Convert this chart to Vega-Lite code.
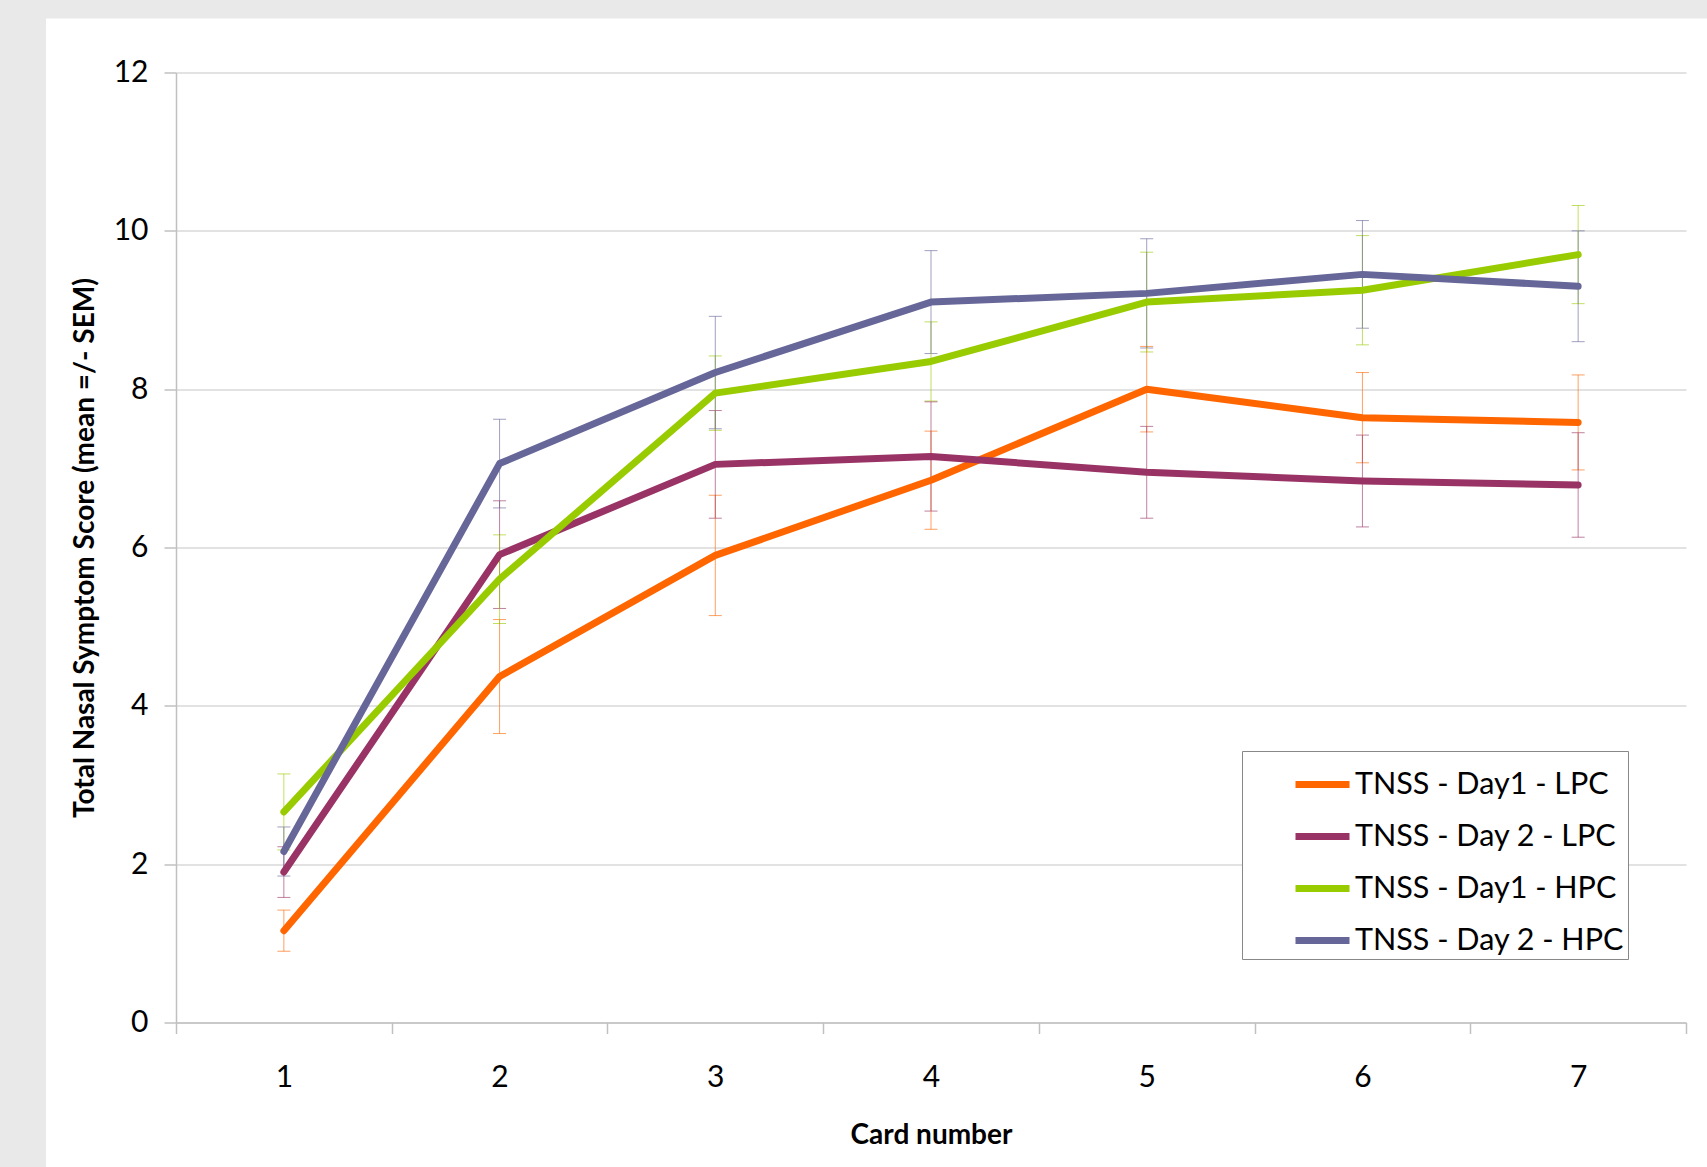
{
  "$schema": "https://vega.github.io/schema/vega-lite/v6.json",
  "padding": 0,
  "background": "white",
  "config": {
    "font": "Lato",
    "view": {"stroke": null}
  },
  "datasets": {
    "tnss": [
      {"card": 1, "series": "TNSS - Day1 - LPC", "mean": 1.16, "sem": 0.26},
      {"card": 2, "series": "TNSS - Day1 - LPC", "mean": 4.37, "sem": 0.72},
      {"card": 3, "series": "TNSS - Day1 - LPC", "mean": 5.90, "sem": 0.76},
      {"card": 4, "series": "TNSS - Day1 - LPC", "mean": 6.85, "sem": 0.62},
      {"card": 5, "series": "TNSS - Day1 - LPC", "mean": 8.00, "sem": 0.54},
      {"card": 6, "series": "TNSS - Day1 - LPC", "mean": 7.64, "sem": 0.57},
      {"card": 7, "series": "TNSS - Day1 - LPC", "mean": 7.58, "sem": 0.60},
      {"card": 1, "series": "TNSS - Day 2 - LPC", "mean": 1.90, "sem": 0.32},
      {"card": 2, "series": "TNSS - Day 2 - LPC", "mean": 5.91, "sem": 0.68},
      {"card": 3, "series": "TNSS - Day 2 - LPC", "mean": 7.05, "sem": 0.68},
      {"card": 4, "series": "TNSS - Day 2 - LPC", "mean": 7.15, "sem": 0.69},
      {"card": 5, "series": "TNSS - Day 2 - LPC", "mean": 6.95, "sem": 0.58},
      {"card": 6, "series": "TNSS - Day 2 - LPC", "mean": 6.84, "sem": 0.58},
      {"card": 7, "series": "TNSS - Day 2 - LPC", "mean": 6.79, "sem": 0.66},
      {"card": 1, "series": "TNSS - Day1 - HPC", "mean": 2.66, "sem": 0.48},
      {"card": 2, "series": "TNSS - Day1 - HPC", "mean": 5.60, "sem": 0.56},
      {"card": 3, "series": "TNSS - Day1 - HPC", "mean": 7.95, "sem": 0.47},
      {"card": 4, "series": "TNSS - Day1 - HPC", "mean": 8.35, "sem": 0.50},
      {"card": 5, "series": "TNSS - Day1 - HPC", "mean": 9.10, "sem": 0.63},
      {"card": 6, "series": "TNSS - Day1 - HPC", "mean": 9.25, "sem": 0.69},
      {"card": 7, "series": "TNSS - Day1 - HPC", "mean": 9.70, "sem": 0.62},
      {"card": 1, "series": "TNSS - Day 2 - HPC", "mean": 2.16, "sem": 0.31},
      {"card": 2, "series": "TNSS - Day 2 - HPC", "mean": 7.06, "sem": 0.56},
      {"card": 3, "series": "TNSS - Day 2 - HPC", "mean": 8.21, "sem": 0.71},
      {"card": 4, "series": "TNSS - Day 2 - HPC", "mean": 9.10, "sem": 0.65},
      {"card": 5, "series": "TNSS - Day 2 - HPC", "mean": 9.21, "sem": 0.69},
      {"card": 6, "series": "TNSS - Day 2 - HPC", "mean": 9.45, "sem": 0.68},
      {"card": 7, "series": "TNSS - Day 2 - HPC", "mean": 9.30, "sem": 0.70}
    ],
    "empty": []
  },
  "bounds": "flush",
  "spacing": 0,
  "hconcat": [
    {
      "width": 46,
      "height": 1167,
      "view": {"fill": "#e9e9e9", "stroke": null},
      "data": {"name": "empty"},
      "mark": "point"
    },
    {
      "bounds": "flush",
      "spacing": 53.5,
      "vconcat": [
        {
          "width": 1661,
          "height": 18.5,
          "view": {"fill": "#e9e9e9", "stroke": null},
          "data": {"name": "empty"},
          "mark": "point"
        },
        {
          "bounds": "flush",
          "spacing": 129,
          "hconcat": [
            {
              "width": 1,
              "height": 1,
              "data": {"name": "empty"},
              "mark": "point"
            },
            {
              "width": 1510,
              "height": 950,
              "data": {"name": "tnss"},
              "encoding": {
                "x": {
                  "field": "card",
                  "type": "ordinal",
                  "scale": {"type": "band", "paddingInner": 0, "paddingOuter": 0},
                  "axis": {
                    "title": "Card number",
                    "tickBand": "extent",
                    "grid": false,
                    "domainColor": "#c0c0c0",
                    "domainWidth": 1.5,
                    "tickColor": "#c0c0c0",
                    "tickWidth": 1.5,
                    "tickSize": 11,
                    "labelFontSize": 30,
                    "labelColor": "#000000",
                    "labelPadding": 29,
                    "labelAngle": 0,
                    "titleFontSize": 28,
                    "titleFontWeight": "bold",
                    "titleColor": "#000000",
                    "titlePadding": 29
                  }
                },
                "y": {
                  "field": "mean",
                  "type": "quantitative",
                  "scale": {"domain": [0, 12], "nice": false},
                  "axis": {
                    "title": "Total Nasal Symptom Score (mean =/- SEM)",
                    "values": [0, 2, 4, 6, 8, 10, 12],
                    "grid": true,
                    "gridColor": "#c6c6c6",
                    "gridWidth": 1.2,
                    "domainColor": "#c0c0c0",
                    "domainWidth": 1.5,
                    "tickColor": "#c0c0c0",
                    "tickWidth": 1.5,
                    "tickSize": 12,
                    "labelFontSize": 30,
                    "labelColor": "#000000",
                    "labelPadding": 16,
                    "titleFontSize": 28,
                    "titleFontWeight": "bold",
                    "titleColor": "#000000",
                    "titlePadding": 14
                  }
                },
                "color": {
                  "field": "series",
                  "type": "nominal",
                  "scale": {
                    "domain": ["TNSS - Day1 - LPC", "TNSS - Day 2 - LPC", "TNSS - Day1 - HPC", "TNSS - Day 2 - HPC"],
                    "range": ["#ff6600", "#993366", "#99cc00", "#666699"]
                  },
                  "legend": {
                    "title": null,
                    "orient": "none",
                    "legendX": 1242,
                    "legendY": 751,
                    "symbolType": "stroke",
                    "symbolSize": 2916,
                    "symbolStrokeWidth": 7,
                    "symbolOpacity": 1,
                    "labelFontSize": 30.5,
                    "labelColor": "#000000",
                    "labelLimit": 500,
                    "labelOffset": 2,
                    "padding": 3,
                    "symbolOffset": 47,
                    "rowPadding": 6,
                    "strokeColor": "#888888",
                    "fillColor": "#ffffff"
                  }
                }
              },
              "layer": [
                {
                  "mark": {"type": "errorbar", "ticks": true, "size": 13, "thickness": 1, "opacity": 0.62},
                  "encoding": {"yError": {"field": "sem"}}
                },
                {
                  "mark": {"type": "line", "strokeWidth": 7, "strokeCap": "round", "strokeJoin": "round"}
                }
              ]
            }
          ]
        }
      ]
    }
  ]
}
